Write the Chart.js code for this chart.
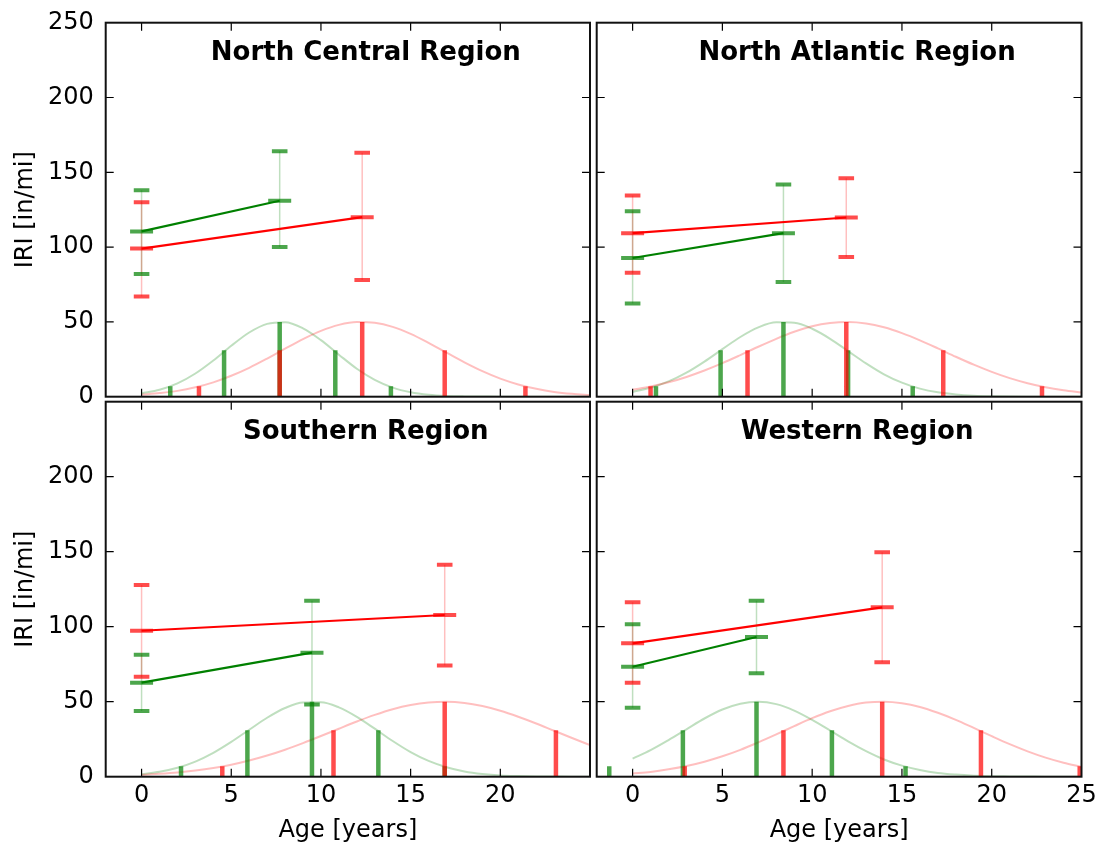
<!DOCTYPE html>
<html>
<head>
<meta charset="utf-8">
<script src="https://cdn.jsdelivr.net/npm/chart.js@4.4.1/dist/chart.umd.min.js"></script>
<style>
html,body{margin:0;padding:0;background:#fff;}
#wrap{position:relative;width:1097px;height:847px;background:#fff;}
#wrap canvas{position:absolute;left:0;top:0;}
</style>
</head>
<body>
<div id="wrap">
<canvas id="c0" width="1097" height="847"></canvas>
<canvas id="c1" width="1097" height="847"></canvas>
<canvas id="c2" width="1097" height="847"></canvas>
<canvas id="c3" width="1097" height="847"></canvas>
</div>
<script>
// ---------- DATA ----------
const regionNames = ['North Central Region', 'North Atlantic Region', 'Southern Region', 'Western Region'];
const xTickValues = [0, 5, 10, 15, 20, 25];
const yTickValues = [0, 50, 100, 150, 200, 250];
const xLabel = 'Age [years]';
const yLabel = 'IRI [in/mi]';
const titleAge = 12.5;
const titleIRI = 225;
const curveAges = [0,1,2,3,4,5,6,7,8,9,10,11,12,13,14,15,16,17,18,19,20,21,22,23,24,25];

// North Central
const ncGreenAge = [0, 7.7];
const ncGreenIRI = [110.5, 131];
const ncGreenLow = [82, 100];
const ncGreenHigh = [138, 164];
const ncRedAge = [0, 12.3];
const ncRedIRI = [99, 120];
const ncRedLow = [67, 78];
const ncRedHigh = [130, 163];
const ncGreenBarAge = [1.6, 4.6, 7.7, 10.8, 13.9];
const ncGreenBarH = [7, 31, 50, 31, 7];
const ncRedBarAge = [3.2, 7.7, 12.3, 16.9, 21.4];
const ncRedBarH = [7, 31, 50, 31, 7];
const ncGreenCurve = [2.2, 4.6, 8.9, 15.5, 24.2, 34.0, 42.9, 48.7, 49.8, 45.7, 37.8, 28.1, 18.7, 11.3, 6.1, 3.0, 1.3, 0.5, 0.2, 0.1, 0, 0, 0, 0, 0, 0];
const ncRedCurve = [1.3, 2.4, 3.9, 6.3, 9.6, 14.0, 19.3, 25.5, 32.1, 38.5, 44.0, 48.0, 49.9, 49.4, 46.7, 42.0, 36.0, 29.5, 23.0, 17.1, 12.1, 8.2, 5.3, 3.2, 1.9, 1.1];

// North Atlantic
const naGreenAge = [0, 8.4];
const naGreenIRI = [92.7, 109.3];
const naGreenLow = [62.3, 76.7];
const naGreenHigh = [124, 141.8];
const naRedAge = [0, 11.9];
const naRedIRI = [109.3, 119.8];
const naRedLow = [82.9, 93.3];
const naRedHigh = [134.5, 146];
const naGreenBarAge = [1.3, 4.9, 8.4, 12.0, 15.6];
const naGreenBarH = [7, 31, 50, 31, 7];
const naRedBarAge = [1.0, 6.4, 11.9, 17.3, 22.8];
const naRedBarH = [7, 31, 50, 31, 7];
const naGreenCurve = [3.2, 6.0, 10.2, 16.1, 23.5, 31.8, 39.9, 46.3, 49.7, 49.4, 45.4, 38.7, 30.5, 22.3, 15.0, 9.4, 5.4, 2.9, 1.5, 0.7, 0.3, 0.1, 0, 0, 0, 0];
const naRedCurve = [4.6, 6.8, 9.6, 13.2, 17.5, 22.4, 27.8, 33.4, 38.7, 43.4, 47.1, 49.3, 50.0, 49.0, 46.4, 42.5, 37.7, 32.3, 26.7, 21.4, 16.6, 12.4, 9.0, 6.3, 4.3, 2.8];

// Southern
const sGreenAge = [0, 9.5];
const sGreenIRI = [62.7, 82.7];
const sGreenLow = [43.8, 48.2];
const sGreenHigh = [81.3, 117.3];
const sRedAge = [0, 16.9];
const sRedIRI = [97.3, 107.8];
const sRedLow = [66.7, 74.2];
const sRedHigh = [127.8, 141.3];
const sGreenBarAge = [2.2, 5.9, 9.5, 13.2, 16.9];
const sGreenBarH = [7, 31, 50, 31, 7];
const sRedBarAge = [4.5, 10.7, 16.9, 23.1];
const sRedBarH = [7, 31, 50, 31];
const sGreenCurve = [1.7, 3.3, 6.0, 10.1, 15.9, 23.2, 31.3, 39.3, 45.8, 49.5, 49.6, 46.2, 39.9, 32.0, 23.8, 16.4, 10.5, 6.3, 3.5, 1.8, 0.8, 0.4, 0.2, 0.1, 0, 0];
const sRedCurve = [1.2, 1.9, 2.8, 4.1, 5.8, 8.0, 10.8, 14.1, 18.0, 22.4, 27.1, 32.0, 36.8, 41.2, 45.0, 47.8, 49.5, 50.0, 49.2, 47.1, 44.0, 40.0, 35.5, 30.6, 25.8, 21.1];

// Western
const wGreenAge = [0, 6.9];
const wGreenIRI = [73.3, 93.1];
const wGreenLow = [46, 68.9];
const wGreenHigh = [101.6, 117.3];
const wRedAge = [0, 13.9];
const wRedIRI = [88.9, 112.9];
const wRedLow = [62.7, 76.3];
const wRedHigh = [116.3, 149.6];
const wGreenBarAge = [-1.3, 2.8, 6.9, 11.1, 15.2];
const wGreenBarH = [7, 31, 50, 31, 7];
const wRedBarAge = [2.9, 8.4, 13.9, 19.4, 24.9];
const wRedBarH = [7, 31, 50, 31, 7];
const wGreenCurve = [12.1, 17.7, 24.4, 31.6, 38.8, 44.8, 48.7, 50.0, 48.4, 44.1, 37.9, 30.8, 23.5, 17.0, 11.5, 7.4, 4.5, 2.5, 1.4, 0.7, 0.3, 0.2, 0.1, 0, 0, 0];
const wRedCurve = [2.1, 3.2, 4.9, 7.1, 10.0, 13.6, 17.9, 22.9, 28.2, 33.7, 39.0, 43.6, 47.1, 49.4, 50.0, 49.0, 46.5, 42.6, 37.9, 32.5, 27.0, 21.7, 16.9, 12.7, 9.3, 6.5];

// ---------- STYLE / LAYOUT ----------
const FONT = "'DejaVu Sans', 'Liberation Sans', sans-serif";
Chart.defaults.font.family = FONT;
Chart.defaults.font.size = 24;
Chart.defaults.color = '#000';

const CW = 1097, CH = 847, YW = 100, XH = 70;
const G = 'rgb(0,128,0)', G7 = 'rgba(0,128,0,0.7)', G25 = 'rgba(0,128,0,0.25)';
const R = 'rgb(255,0,0)', R7 = 'rgba(255,0,0,0.7)', R25 = 'rgba(255,0,0,0.25)';

const panels = [
  {canvas: 'c0', title: regionNames[0], area: [105.7, 22.7, 590, 396.7], col: 0, row: 0,
   g: {age: ncGreenAge, iri: ncGreenIRI, lo: ncGreenLow, hi: ncGreenHigh, barAge: ncGreenBarAge, barH: ncGreenBarH, curve: ncGreenCurve},
   r: {age: ncRedAge, iri: ncRedIRI, lo: ncRedLow, hi: ncRedHigh, barAge: ncRedBarAge, barH: ncRedBarH, curve: ncRedCurve}},
  {canvas: 'c1', title: regionNames[1], area: [596.7, 22.7, 1081.7, 396.7], col: 1, row: 0,
   g: {age: naGreenAge, iri: naGreenIRI, lo: naGreenLow, hi: naGreenHigh, barAge: naGreenBarAge, barH: naGreenBarH, curve: naGreenCurve},
   r: {age: naRedAge, iri: naRedIRI, lo: naRedLow, hi: naRedHigh, barAge: naRedBarAge, barH: naRedBarH, curve: naRedCurve}},
  {canvas: 'c2', title: regionNames[2], area: [105.7, 401.7, 590, 776.7], col: 0, row: 1,
   g: {age: sGreenAge, iri: sGreenIRI, lo: sGreenLow, hi: sGreenHigh, barAge: sGreenBarAge, barH: sGreenBarH, curve: sGreenCurve},
   r: {age: sRedAge, iri: sRedIRI, lo: sRedLow, hi: sRedHigh, barAge: sRedBarAge, barH: sRedBarH, curve: sRedCurve}},
  {canvas: 'c3', title: regionNames[3], area: [596.7, 401.7, 1081.7, 776.7], col: 1, row: 1,
   g: {age: wGreenAge, iri: wGreenIRI, lo: wGreenLow, hi: wGreenHigh, barAge: wGreenBarAge, barH: wGreenBarH, curve: wGreenCurve},
   r: {age: wRedAge, iri: wRedIRI, lo: wRedLow, hi: wRedHigh, barAge: wRedBarAge, barH: wRedBarH, curve: wRedCurve}}
];

function pts(ages, vals) { return ages.map((a, i) => ({x: a, y: vals[i]})); }
function segs(ages, los, his) { return ages.flatMap((a, i) => [{x: a, y: los[i]}, {x: a, y: his[i]}, {x: a, y: null}]); }
function caps(ages, los, his) { return ages.flatMap((a, i) => [{x: a, y: los[i]}, {x: a, y: his[i]}]); }

function lineDs(data, color, width, order, smooth) {
  return {data, borderColor: color, borderWidth: width, pointRadius: 0, pointHoverRadius: 0,
    showLine: true, spanGaps: false, fill: false, borderCapStyle: 'butt', order,
    tension: smooth ? 0.4 : 0, cubicInterpolationMode: smooth ? 'monotone' : 'default'};
}
function markDs(data, color, halfLen, order) {
  return {data, showLine: false, pointStyle: 'line', pointRadius: halfLen, pointHoverRadius: halfLen,
    pointBorderColor: color, pointBackgroundColor: color, pointBorderWidth: 4, pointHoverBorderWidth: 4,
    borderColor: color, order};
}

const framePlugin = {
  id: 'frame',
  afterDraw(chart, args, opts) {
    const {ctx, chartArea: a} = chart;
    const x = chart.scales.x, y = chart.scales.y;
    ctx.save();
    ctx.strokeStyle = '#000';
    ctx.lineWidth = 1.2;
    ctx.beginPath();
    xTickValues.forEach(v => {
      if (v > x.min && v < x.max) {
        const px = x.getPixelForValue(v);
        ctx.moveTo(px, a.bottom); ctx.lineTo(px, a.bottom - 8);
        ctx.moveTo(px, a.top); ctx.lineTo(px, a.top + 8);
      }
    });
    yTickValues.forEach(v => {
      if (v > y.min && v < y.max) {
        const py = y.getPixelForValue(v);
        ctx.moveTo(a.left, py); ctx.lineTo(a.left + 8, py);
        ctx.moveTo(a.right, py); ctx.lineTo(a.right - 8, py);
      }
    });
    ctx.stroke();
    ctx.lineWidth = 2;
    ctx.strokeStyle = '#111';
    ctx.strokeRect(a.left, a.top, a.right - a.left, a.bottom - a.top);
    ctx.fillStyle = '#000';
    ctx.font = 'bold 26px ' + FONT;
    ctx.textAlign = 'center';
    ctx.textBaseline = 'alphabetic';
    ctx.fillText(opts.title, x.getPixelForValue(titleAge), y.getPixelForValue(titleIRI));
    ctx.restore();
  }
};

function zeroPad(s) { s.paddingLeft = 0; s.paddingRight = 0; s.paddingTop = 0; s.paddingBottom = 0; }

panels.forEach(p => {
  const [L, T, Rr, B] = p.area;
  const bottomRow = p.row === 1, leftCol = p.col === 0;
  const xt = leftCol ? xTickValues.filter(v => v < 25) : xTickValues.slice();
  const yt = bottomRow ? yTickValues.filter(v => v < 250) : yTickValues.slice();
  const datasets = [
    lineDs(pts(curveAges, p.g.curve), G25, 2, 12, true),
    lineDs(pts(curveAges, p.r.curve), R25, 2, 11, true),
    lineDs(segs(p.g.barAge, p.g.barAge.map(() => 0), p.g.barH), G7, 4.5, 10, false),
    lineDs(segs(p.r.barAge, p.r.barAge.map(() => 0), p.r.barH), R7, 4.5, 9, false),
    lineDs(segs(p.g.age, p.g.lo, p.g.hi), G25, 1.5, 8, false),
    lineDs(segs(p.r.age, p.r.lo, p.r.hi), R25, 1.5, 7, false),
    markDs(caps(p.g.age, p.g.lo, p.g.hi), G7, 7.8, 6),
    markDs(caps(p.r.age, p.r.lo, p.r.hi), R7, 7.8, 5),
    markDs(pts(p.g.age, p.g.iri), G7, 11.5, 4),
    markDs(pts(p.r.age, p.r.iri), R7, 11.5, 3),
    lineDs(pts(p.g.age, p.g.iri), G, 2.2, 2, false),
    lineDs(pts(p.r.age, p.r.iri), R, 2.2, 1, false)
  ];
  new Chart(document.getElementById(p.canvas), {
    type: 'line',
    data: {datasets},
    plugins: [framePlugin],
    options: {
      responsive: false,
      animation: false,
      devicePixelRatio: 1,
      events: [],
      layout: {padding: {left: L - YW, top: T, right: CW - Rr, bottom: CH - B - XH}},
      plugins: {legend: {display: false}, tooltip: {enabled: false}, frame: {title: p.title}},
      scales: {
        x: {
          type: 'linear', position: 'bottom', min: -2, max: 25,
          afterBuildTicks: s => { s.ticks = xt.map(v => ({value: v})); },
          afterFit: s => { s.height = XH; zeroPad(s); },
          grid: {display: false, drawTicks: false},
          border: {display: false},
          ticks: {display: bottomRow, padding: 5, maxRotation: 0, autoSkip: false, font: {size: 24}, color: '#000'},
          title: {display: bottomRow, text: xLabel, font: {size: 24}, color: '#000', padding: {top: 0, bottom: 2}}
        },
        y: {
          type: 'linear', position: 'left', min: 0, max: 250,
          afterBuildTicks: s => { s.ticks = yt.map(v => ({value: v})); },
          afterFit: s => { s.width = YW; zeroPad(s); },
          grid: {display: false, drawTicks: false},
          border: {display: false},
          ticks: {display: leftCol, padding: 12, autoSkip: false, font: {size: 24}, color: '#000'},
          title: {display: leftCol, text: yLabel, font: {size: 24}, color: '#000', padding: {top: 6, bottom: 0}}
        }
      }
    }
  });
});
</script>
</body>
</html>
